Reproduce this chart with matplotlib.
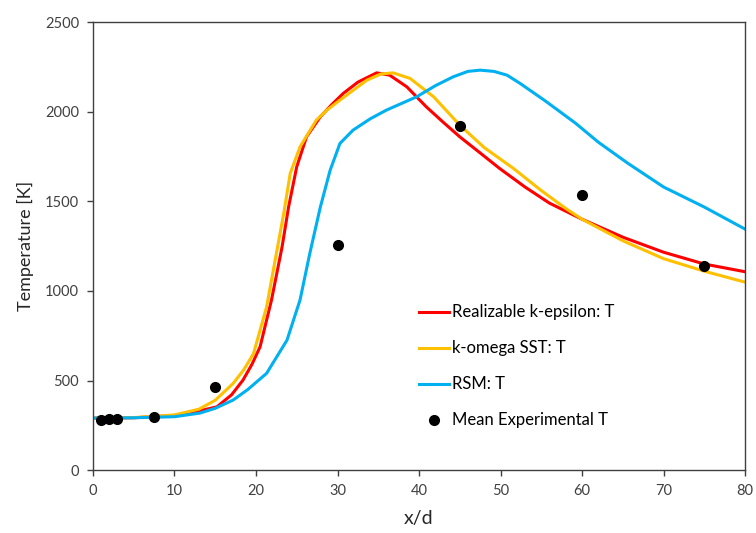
import matplotlib
matplotlib.use("Agg")
import matplotlib.pyplot as plt

plt.rcParams['font.family'] = ['Lato', 'DejaVu Sans']

# Realizable k-epsilon
x_red = [0, 5, 10, 13, 15.2, 17, 18.4, 19.5, 20.5, 21.9, 23.2, 24, 25, 26.2, 27.9, 29.3,
         30.7, 32.5, 34.8, 36.4, 38.5, 40.9, 43, 45, 47.5, 49.9, 53, 56, 60, 65, 70, 75, 80]
t_red = [290, 292, 305, 330, 353, 420, 502, 590, 688, 949, 1246, 1469, 1693, 1860, 1972, 2040,
         2102, 2165, 2217, 2204, 2139, 2027, 1940, 1860, 1770, 1683, 1580, 1490, 1400,
         1300, 1216, 1150, 1107]

# k-omega SST
x_yel = [0, 5, 10, 13, 15, 17.2, 18.5, 19.7, 21.3, 22.5, 23.4, 24.2, 25.4, 27.4, 28.7, 30.3,
         33.6, 35.3, 36.8, 38.9, 41.8, 45, 48, 51.6, 55, 58, 60, 65, 70, 75, 80]
t_yel = [290, 293, 308, 340, 390, 484, 560, 651, 911, 1209, 1432, 1656, 1804, 1953, 2009,
         2065, 2176, 2210, 2217, 2186, 2083, 1925, 1800, 1683, 1560, 1460, 1400, 1280, 1180,
         1110, 1049]

# RSM
x_blu = [0, 5, 10, 13.1, 15, 17.2, 19, 21.3, 23.8, 25.4, 26.6, 27.9, 29.1, 30.3, 31.9, 34,
         36, 39.7, 42, 44.2, 46, 47.5, 49.2, 50.8, 52.4, 55.5, 59.2, 62, 65.6, 70, 75, 80]
t_blu = [290, 292, 298, 318, 345, 391, 450, 540, 725, 949, 1209, 1469, 1674, 1823, 1897,
         1960, 2009, 2083, 2145, 2195, 2225, 2232, 2225, 2204, 2158, 2060, 1936, 1830, 1713,
         1580, 1468, 1345]

# Mean experimental
x_exp = [1, 2, 3, 7.5, 15, 30, 45, 60, 75]
t_exp = [280, 285, 285, 298, 463, 1254, 1920, 1535, 1140]

fig = plt.figure(figsize=(7.56, 5.33), dpi=100)
ax = fig.add_axes([0.123, 0.118, 0.8625, 0.8405])

ax.plot(x_red, t_red, color='#FF0000', lw=2.2, label='Realizable k-epsilon: T')
ax.plot(x_yel, t_yel, color='#FFC000', lw=2.2, label='k-omega SST: T')
ax.plot(x_blu, t_blu, color='#00B0F0', lw=2.2, label='RSM: T')
ax.plot(x_exp, t_exp, 'o', color='black', ms=7, label='Mean Experimental T', zorder=5)

ax.set_xlim(0, 80)
ax.set_ylim(0, 2500)
ax.set_xticks(range(0, 81, 10))
ax.set_yticks(range(0, 2501, 500))
ax.tick_params(direction='out', length=4, width=1, colors='#404040', labelsize=10.5,
               labelcolor='#404040', pad=6)
for s in ax.spines.values():
    s.set_color('#404040')
    s.set_linewidth(1)

ax.set_xlabel('x/d', fontsize=14, color='#262626', labelpad=9)
ax.set_ylabel('Temperature [K]', fontsize=13, color='#262626', labelpad=8)

ax.legend(loc='upper left', bbox_to_anchor=(0.5, 0.37), frameon=False, fontsize=12,
          handlelength=1.8, handletextpad=0.15, labelspacing=1.2, borderpad=0,
          borderaxespad=0)

fig.savefig('out.png', dpi=100)
